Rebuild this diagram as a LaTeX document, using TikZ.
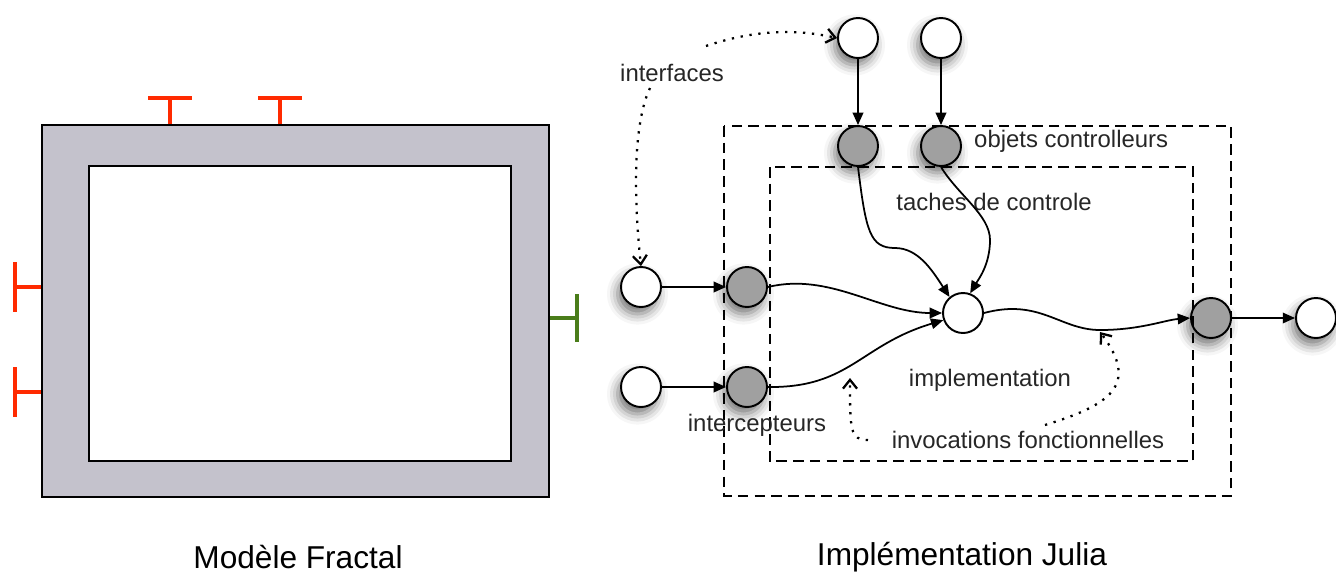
\documentclass[tikz,border=0pt]{standalone}
\usepackage{fontspec}
\setmainfont{Liberation Sans}
\usetikzlibrary{arrows.meta, shadows.blur}
\definecolor{framegray}{RGB}{196,194,204}
\definecolor{portred}{RGB}{255,42,0}
\definecolor{portgreen}{RGB}{74,125,26}
\definecolor{ctrlgray}{RGB}{160,160,160}

\begin{document}
\begin{tikzpicture}[x=0.02cm, y=-0.02cm,
  itf/.style={circle, draw, line width=1.1pt, fill=white, minimum size=0.8cm, inner sep=0pt,
    blur shadow={shadow xshift=-2pt, shadow yshift=-4pt, shadow blur radius=6pt, shadow opacity=55}},
  ctl/.style={itf, fill=ctrlgray},
  flow/.style={line width=1pt, -{Triangle[length=7pt, width=6pt]}},
  hint/.style={line width=1.3pt, dash pattern=on 1.3pt off 3.8pt, -{Straight Barb[length=5pt, width=8pt]}},
  zone/.style={line width=1pt, dash pattern=on 6pt off 3.5pt},
  lbl/.style={font=\fontsize{13.6}{16}\selectfont, text=black!85},
  title/.style={font=\fontsize{18}{22}\selectfont},
  port/.style={line width=2.2pt, portred}]
  \useasboundingbox (0,0) rectangle (1336,576);

  % modele fractal
  \draw[fill=framegray, line width=1.2pt] (42,125) rectangle (549,497);
  \draw[fill=white, line width=1.2pt] (89,166) rectangle (511,461);
  \draw[port] (170,124) -- (170,98) (148,98) -- (192,98);
  \draw[port] (280,124) -- (280,98) (258,98) -- (302,98);
  \draw[port] (41,287) -- (15,287) (15,262) -- (15,312);
  \draw[port] (41,392) -- (15,392) (15,367) -- (15,417);
  \draw[port, portgreen] (550,318) -- (577,318) (577,294) -- (577,342);
  \node[title] (fractal) at (298,557) {Modèle Fractal};

  % implementation julia
  \node[itf] (srcA) at (858,38) {};
  \node[itf] (srcB) at (941,38) {};
  \node[ctl] (ctrlA) at (858,146) {};
  \node[ctl] (ctrlB) at (941,146) {};
  \node[itf] (inA) at (641,287) {};
  \node[itf] (inB) at (641,387) {};
  \node[ctl] (icpA) at (747,287) {};
  \node[ctl] (icpB) at (747,387) {};
  \node[ctl] (icpOut) at (1211,318) {};
  \node[itf] (out) at (1316,318) {};
  \node[circle, draw, line width=1.1pt, fill=white, minimum size=0.8cm, inner sep=0pt] (impl) at (963,313) {};

  \draw[zone] (724,126) rectangle (1231,496);
  \draw[zone] (770,167) rectangle (1193,461);

  \node[lbl] (itfLbl) at (672,73) {interfaces};
  \node[lbl, anchor=west] (ctrlLbl) at (968,141) {objets controlleurs};
  \node[lbl] (taskLbl) at (994,202) {taches de controle};
  \node[lbl] (implLbl) at (990,380) {implementation};
  \node[lbl] (icpLbl) at (757,425) {intercepteurs};
  \node[lbl] (invLbl) at (1028,440) {invocations fonctionnelles};
  \node[title] (julia) at (962,557) {Implémentation Julia};

  \draw[flow] (srcA) -- (ctrlA);
  \draw[flow] (srcB) -- (ctrlB);
  \draw[flow] (inA) -- (icpA);
  \draw[flow] (inB) -- (icpB);
  \draw[flow] (icpOut) -- (out);
  \draw[flow] (ctrlA.south) .. controls (866,232) and (870,248) .. (895,248)
    .. controls (918,248) and (932,270) .. (impl.130);
  \draw[flow] (ctrlB.south) .. controls (958,195) and (990,215) .. (990,240)
    .. controls (990,265) and (978,280) .. (impl.70);
  \draw[flow] (icpA.east) .. controls (830,272) and (880,313) .. (impl.west);
  \draw[flow] (icpB.east) .. controls (850,388) and (860,345) .. (impl.200);
  \draw[flow] (impl.east) .. controls (1040,298) and (1060,330) .. (1100,330)
    .. controls (1140,330) and (1165,320) .. (icpOut.west);

  % indications
  \coordinate (itfTop) at (706,46);
  \coordinate (itfBot) at (650,88);
  \coordinate (invL) at (868,440);
  \coordinate (invR) at (1045,425);
  \coordinate (invHitA) at (850,378);
  \coordinate (invHitB) at (1100,332);
  \draw[hint] (itfTop) .. controls (760,28) and (800,30) .. (srcA.west);
  \draw[hint] (itfBot) .. controls (630,130) and (636,220) .. (inA.north);
  \draw[hint] (invL) .. controls (850,440) and (850,430) .. (invHitA);
  \draw[hint] (invR) .. controls (1110,405) and (1140,385) .. (invHitB);
\end{tikzpicture}
\end{document}
